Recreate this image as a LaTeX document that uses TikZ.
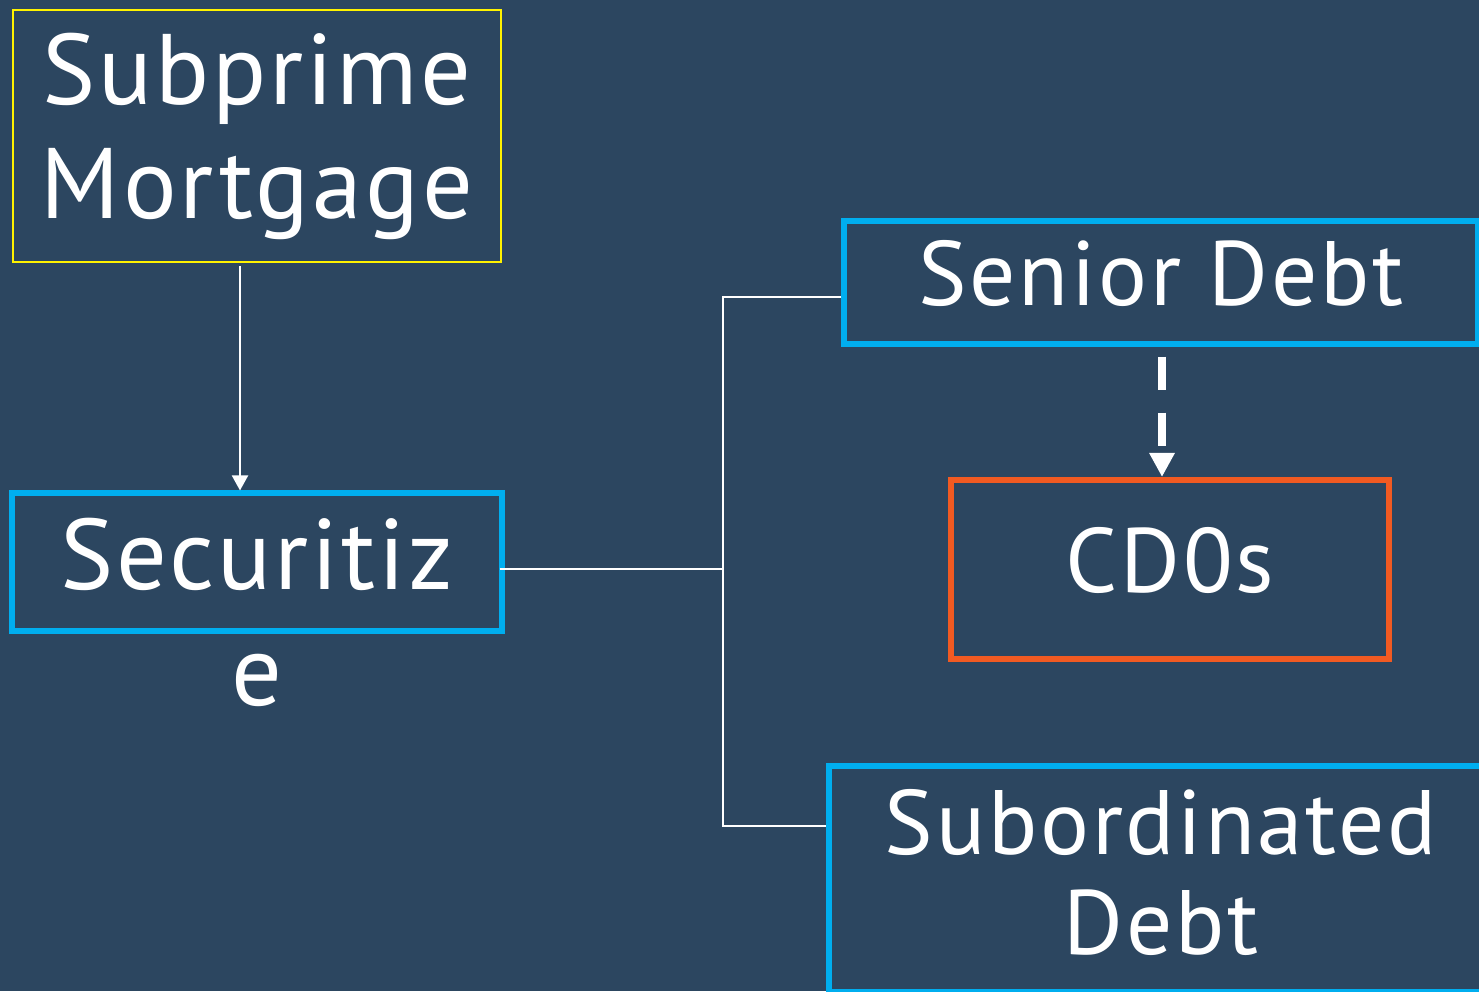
\documentclass[tikz,border=0pt]{standalone}
\usepackage{fontspec}
\setmainfont{PT Sans}[LetterSpace=3]
\usetikzlibrary{arrows.meta,positioning}
\definecolor{navy}{HTML}{2C4660}
\definecolor{cyan}{HTML}{00AEEF}
\definecolor{flame}{HTML}{F15A22}
\definecolor{lemon}{HTML}{FFF200}
\tikzset{
  bigtxt/.style={text=white,inner sep=0pt,font=\fontsize{28.5}{32.4}\selectfont,align=center},
  smalltxt/.style={text=white,inner sep=0pt,font=\fontsize{26}{28.45}\selectfont,align=center},
  oneline/.style={text height=19.5pt,text depth=6.5pt},
  bluebox/.style={draw=cyan,line width=0.06cm},
  link/.style={draw=white,line width=0.02cm},
  dasharrow/.style={draw=white,line width=0.08cm,dash pattern=on 0.33cm off 0.23cm,-{Triangle[width=0.24cm,length=0.24cm]}}
}
\begin{document}
\begin{tikzpicture}[x=0.01cm,y=-0.01cm]
\fill[navy] (0,0) rectangle (1479,991);\useasboundingbox (0,0) rectangle (1479,991);
\node[bigtxt,draw=lemon,line width=0.02cm,minimum width=4.88cm,minimum height=2.52cm] (sub) at (257,136) {Subprime\\Mortgage};
\node[bigtxt,bluebox,minimum width=4.89cm,minimum height=1.37cm,text height=22.2pt,text depth=6.3pt] (secur) at (257,562) {Securitiz};
\node[bigtxt,anchor=base] (securtail) at ([yshift=-1.15cm]secur.base) {e};
\node[smalltxt,oneline,bluebox,minimum width=6.33cm,minimum height=1.22cm] (senior) at (1161,282.5) {Senior Debt};
\node[smalltxt,oneline,draw=flame,line width=0.06cm,minimum width=4.38cm,minimum height=1.79cm] (cdo) at (1170,569.5) {CD0s};
\node[smalltxt,bluebox,minimum width=6.64cm,minimum height=2.26cm] (subord) at (1161,879) {Subordinated\\Debt\rule[-4pt]{0pt}{4pt}};
% connectors
\coordinate (hub) at (723,569);
\draw[link,-{Triangle[width=0.16cm,length=0.15cm]}] ([yshift=-0.03cm]sub.south -| 240,0) -- (secur.north -| 240,0);
\draw[link] ([xshift=-0.05cm]secur.east |- hub) -- (hub);
\draw[link] (senior.west |- 0,297) -| (hub) |- (subord.west |- 0,826);
\draw[dasharrow] ([yshift=-0.1cm]senior.south -| 1162,0) -- (cdo.north -| 1162,0);
\end{tikzpicture}
\end{document}
